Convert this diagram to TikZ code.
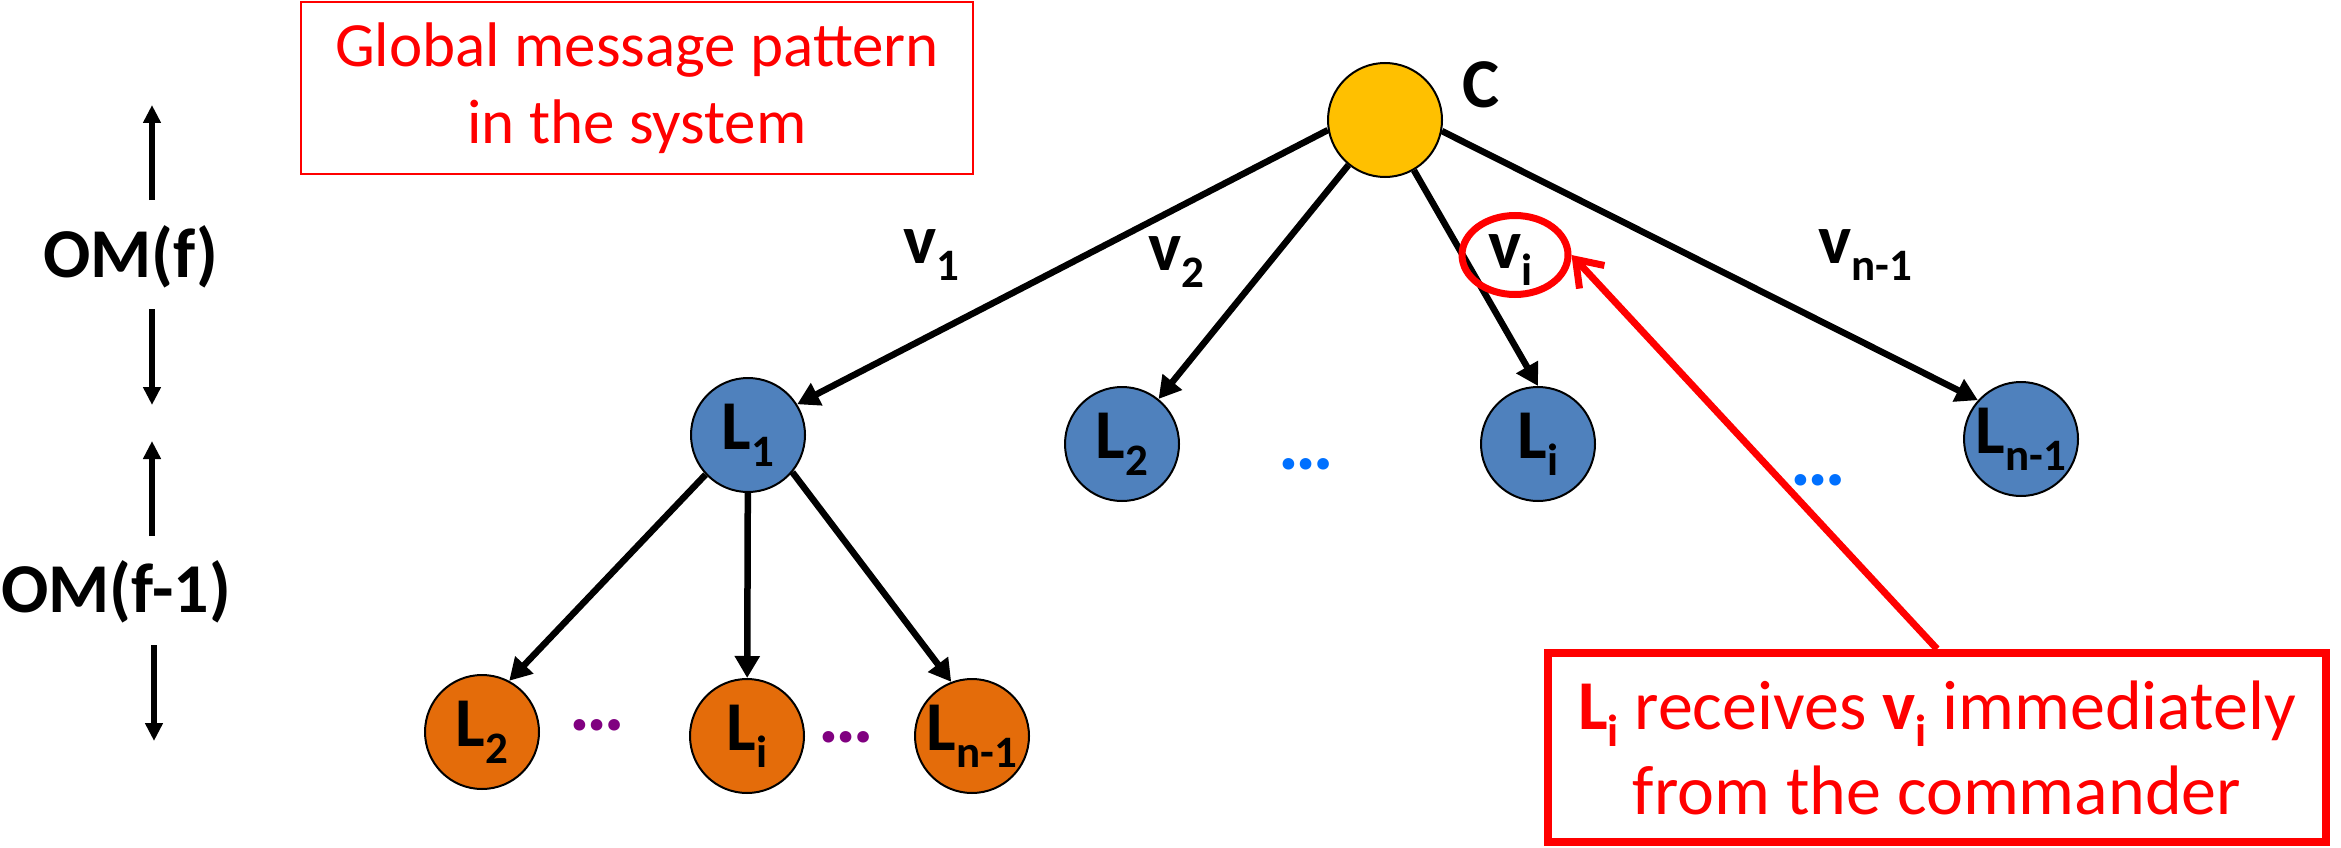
\documentclass[tikz,border=0pt]{standalone}
\usepackage{fontspec}
\setmainfont{Carlito}
\usetikzlibrary{arrows.meta,shapes.geometric}
\definecolor{cyell}{HTML}{FFC000}
\definecolor{cblue}{HTML}{4F81BD}
\definecolor{corange}{HTML}{E46C0A}
\definecolor{cdots}{HTML}{0070FF}
\definecolor{cpurple}{HTML}{800080}
\definecolor{cred}{HTML}{FF0000}
\newcommand\sbs[1]{\raisebox{-17pt}{\fontsize{45}{45}\selectfont #1}}
\begin{document}
\begin{tikzpicture}[x=1pt,y=-1pt,
  proc/.style={circle,draw=black,line width=2pt,minimum size=114pt,inner sep=0pt,
    font=\fontsize{70}{84}\selectfont\bfseries},
  lab/.style={anchor=base west,inner sep=0pt,font=\fontsize{70}{84}\selectfont\bfseries},
  sidelab/.style={anchor=base,inner sep=0pt,font=\fontsize{70}{84}\selectfont\bfseries},
  edgearrow/.style={line width=6.5pt,-{Triangle[length=22pt,width=24pt]}},
  sidearrow/.style={line width=5.3pt,-{Triangle[length=18pt,width=17pt]}},
  dotsnode/.style={anchor=base,inner sep=0pt,font=\fontsize{78}{90}\selectfont\bfseries},
]
\useasboundingbox (0,0) rectangle (2341,848);

% top-left note
\node[draw=cred,line width=2pt,minimum width=672pt,minimum height=172pt,inner sep=0pt,
  align=center,text=cred,font=\fontsize{63}{77}\selectfont] (gbox) at (637,88)
  {Global message pattern\\in the system};

% side labels and arrows
\node[sidelab] (omf) at (131,277) {OM(f)};
\node[sidelab] (omf1) at (116,612) {OM(f-1)};
\coordinate (u1s) at (152,200); \coordinate (u1e) at (152,105);
\coordinate (d1s) at (152,309); \coordinate (d1e) at (152,405);
\coordinate (u2s) at (152,536); \coordinate (u2e) at (152,441);
\coordinate (d2s) at (154,645); \coordinate (d2e) at (154,741);
\draw[sidearrow] (u1s) -- (u1e);
\draw[sidearrow] (d1s) -- (d1e);
\draw[sidearrow] (u2s) -- (u2e);
\draw[sidearrow] (d2s) -- (d2e);

% nodes
\node[proc,fill=cyell] (C) at (1385,120) {};
\node[lab] (Clab) at (1462,108) {C};
\node[proc,fill=cblue] (L1) at (748,435) {L\sbs{1}};
\node[proc,fill=cblue] (L2) at (1122,444) {L\sbs{2}};
\node[proc,fill=cblue] (Li) at (1538,444) {L\sbs{i}};
\node[proc,fill=cblue] (Ln) at (2021,439) {L\sbs{n-1}};
\node[proc,fill=corange] (L2o) at (482,732) {L\sbs{2}};
\node[proc,fill=corange] (Lio) at (747,736) {L\sbs{i}};
\node[proc,fill=corange] (Lno) at (972,736) {L\sbs{n-1}};

% dots
\node[dotsnode,text=cdots] (db1) at (1306,469) {…};
\node[dotsnode,text=cdots] (db2) at (1818,485) {…};
\node[dotsnode,text=cpurple] (dp1) at (597,730) {…};
\node[dotsnode,text=cpurple] (dp2) at (846,742) {…};

% edges
\draw[edgearrow] (C.190) -- (L1.32);
\draw[edgearrow] (C) -- (L2);
\draw[edgearrow] (C) -- (Li.north);
\draw[edgearrow] (C.-11) -- (Ln.138);
\draw[edgearrow] (L1.223) -- (L2o.62);
\draw[edgearrow] (L1) -- (Lio);
\draw[edgearrow] (L1.320) -- (Lno.111);

% edge labels
\node[lab] (v1) at (903,263) {v\sbs{1}};
\node[lab] (v2) at (1148,270) {v\sbs{2}};
\node[lab] (vi) at (1488,268) {v\sbs{i}};
\node[lab] (vn) at (1818,263) {v\sbs{n-1}};

% highlight
\node[ellipse,draw=cred,line width=7pt,minimum width=106pt,minimum height=79pt,inner sep=0pt] (vic) at (1515,255) {};

% bottom note
\node[draw=cred,line width=8pt,minimum width=778pt,minimum height=189pt,inner sep=0pt,
  align=center,text=cred,font=\fontsize{70}{85}\selectfont] (note) at (1937,747.5)
  {{\bfseries L\sbs{i}} receives {\bfseries v\sbs{i}} immediately\\from the commander};

\draw[cred,line width=7pt,-{Straight Barb[length=24pt,width=34pt]}] (note.north) -- (vic.east);
\end{tikzpicture}
\end{document}
